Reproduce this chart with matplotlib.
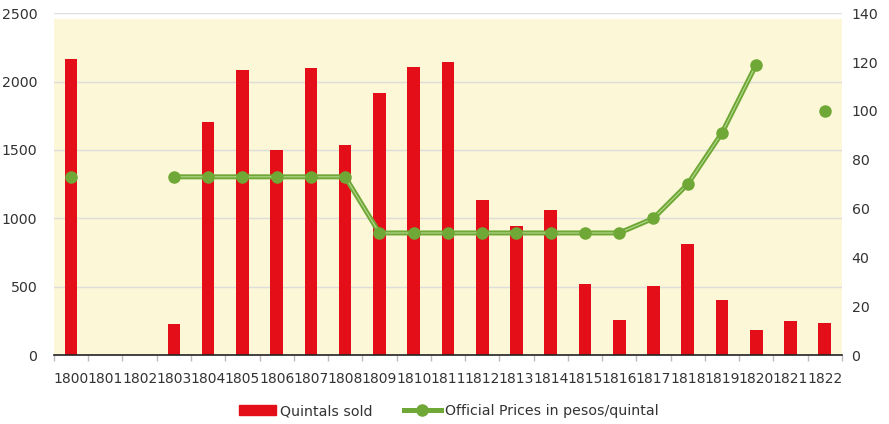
import numpy as np
import matplotlib.pyplot as plt
from matplotlib.lines import Line2D
from matplotlib.patches import Patch

years = [str(y) for y in range(1800, 1823)]
quintals = [2165, 0, 0, 227, 1705, 2088, 1503, 2100, 1540, 1920, 2105, 2147,
            1133, 943, 1062, 517, 258, 507, 809, 400, 183, 251, 234]
prices = [73, np.nan, np.nan, 73, 73, 73, 73, 73, 73, 50, 50, 50,
          50, 50, 50, 50, 50, 56, 70, 91, 119, np.nan, 100]

RED = "#E30E18"
GREEN = "#6FA836"
LIGHT_GREEN = "#B5D88F"
BG = "#FCF7D6"
GRID = "#DDDDDD"
TXT = "#333333"

plt.rcParams['font.family'] = ['DejaVu Sans']

fig = plt.figure(figsize=(8.89, 4.24), dpi=100)
ax = fig.add_axes([0.0607, 0.1627, 0.8863, 0.806])
ax2 = ax.twinx()

x = np.arange(len(years))
ax.set_xlim(-0.5, len(years) - 0.5)
ax.set_ylim(0, 2500)
ax2.set_ylim(0, 140)

# yellow plot area (stops a bit under the top gridline)
ax.axhspan(0, 2455, color=BG, zorder=0, lw=0)
ax.set_yticks(range(0, 2501, 500))
for v in range(500, 2501, 500):
    ax.axhline(v, color=GRID, lw=1, zorder=1)

ax.bar(x, quintals, width=0.37, color=RED, zorder=2)

# double line look
ax2.plot(x, prices, color=GREEN, lw=3.6, zorder=3, solid_capstyle='round')
ax2.plot(x, prices, color=LIGHT_GREEN, lw=0.8, zorder=4)
ax2.plot(x, prices, ls='none', marker='o', ms=8, color=GREEN, zorder=5)

for a in (ax, ax2):
    for s in a.spines.values():
        s.set_visible(False)
ax.spines['bottom'].set_visible(True)
ax.spines['bottom'].set_color("#222222")
ax.spines['bottom'].set_linewidth(1.2)

ax.set_xticks(x)
ax.set_xticklabels(years)
ax.set_xticks(np.arange(-0.5, len(years)), minor=True)
ax.tick_params(axis='x', which='major', length=0, pad=12, labelsize=10.0, colors=TXT)
ax.tick_params(axis='x', which='minor', length=4, width=1, color="#BBBBBB")
ax.tick_params(axis='y', length=0, pad=12, labelsize=10.2, colors=TXT)
ax2.set_yticks(range(0, 141, 20))
ax2.tick_params(axis='y', length=0, pad=7, labelsize=10.2, colors=TXT)

handles = [Patch(color=RED),
           Line2D([], [], color=GREEN, lw=3.6, marker='o', ms=8)]
fig.legend(handles, ["Quintals sold", "Official Prices in pesos/quintal"],
           loc='center', bbox_to_anchor=(0.505, 0.03), ncol=2, frameon=False,
           fontsize=10.2, handlelength=2.6, columnspacing=2.2, handletextpad=0.3,
           labelcolor=TXT)

fig.savefig("out.png", dpi=100)
